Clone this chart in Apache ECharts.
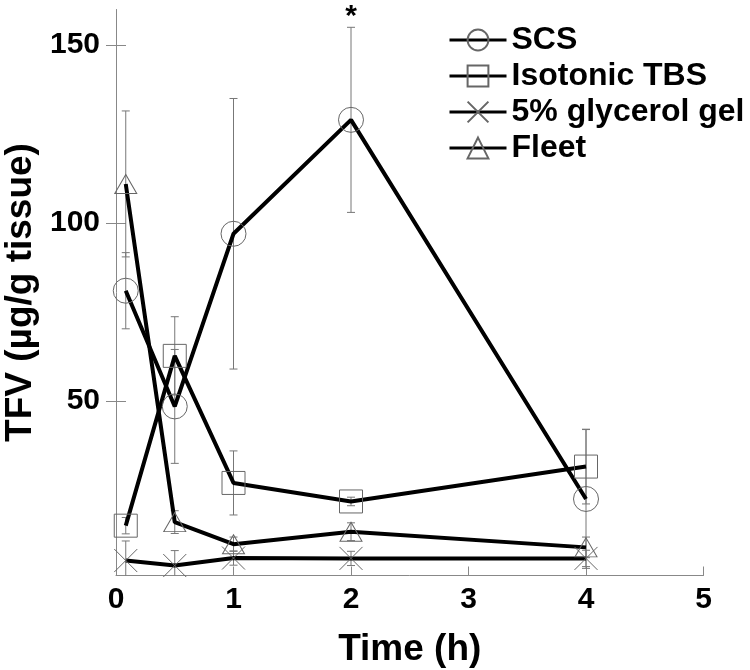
<!DOCTYPE html>
<html><head><meta charset="utf-8">
<script src="https://cdn.jsdelivr.net/npm/echarts@6/dist/echarts.min.js"></script>
<style>html,body{margin:0;padding:0;background:#fff}#c{width:750px;height:670px}</style>
</head><body><div id="c"></div><script>
const times = [0.083, 0.5, 1, 2, 4];
const seriesNames = ['SCS', 'Isotonic TBS', '5% glycerol gel', 'Fleet'];
const scsMean = [81, 48.5, 97, 129, 22.5];
const scsErr = [10.7, 16, 38, 26, 19.5];
const tbsMean = [15, 62.7, 27, 21.8, 31.6];
const tbsErr = [2.3, 11, 9, 1.2, 10.5];
const glyMean = [5.2, 3.8, 5.9, 5.8, 5.8];
const glyErr = [5.5, 4.2, 2, 2, 2.3];
const fleetMean = [111, 16, 9.8, 13.3, 8.9];
const fleetErr = [20.5, 3.2, 2, 2.5, 2.9];
const scsMarks = ['', '', '', '*', ''];
const noMarks = ['', '', '', '', ''];
const yTickValues = [50, 100, 150];

const FONT = '"Liberation Sans", Arial, sans-serif';
const Y_MIN = 1, Y_MAX = 160;
const MARK_COLOR = '#666';

const means = [scsMean, tbsMean, glyMean, fleetMean];
const errs = [scsErr, tbsErr, glyErr, fleetErr];
const marks = [scsMarks, noMarks, noMarks, noMarks];
const symbols = ['circle', 'rect', 'path://M0,0L10,10M10,0L0,10', 'triangle'];
const symbolSizes = [25, 23, 23, [22, 19]];

function errRenderer(markArr) {
  return function (params, api) {
    const x = api.value(0), lo = api.value(1), hi = api.value(2);
    const top = api.coord([x, Math.min(hi, Y_MAX)]);
    const bot = api.coord([x, Math.max(lo, Y_MIN)]);
    const st = { stroke: '#777', lineWidth: 1 };
    const children = [
      { type: 'line', shape: { x1: top[0], y1: top[1], x2: bot[0], y2: bot[1] }, style: st }
    ];
    if (hi <= Y_MAX) children.push({ type: 'line', shape: { x1: top[0] - 4, y1: top[1], x2: top[0] + 4, y2: top[1] }, style: st });
    if (lo >= Y_MIN) children.push({ type: 'line', shape: { x1: bot[0] - 4, y1: bot[1], x2: bot[0] + 4, y2: bot[1] }, style: st });
    const m = markArr[params.dataIndex];
    if (m) {
      children.push({ type: 'text', x: top[0], y: top[1] - 11, style: { text: m, font: 'bold 30px ' + FONT, fill: '#000', align: 'center', verticalAlign: 'middle' } });
    }
    return { type: 'group', children };
  };
}

const series = [];
seriesNames.forEach((name, i) => {
  series.push({
    type: 'custom',
    name: name + ' err',
    renderItem: errRenderer(marks[i]),
    data: times.map((t, k) => [t, means[i][k] - errs[i][k], means[i][k] + errs[i][k]]),
    encode: { x: 0, y: [1, 2] },
    z: 1,
    silent: true,
    clip: false
  });
});
seriesNames.forEach((name, i) => {
  series.push({
    type: 'line',
    name: name,
    data: times.map((t, k) => [t, means[i][k]]),
    symbol: symbols[i],
    symbolSize: symbolSizes[i],
    showAllSymbol: true,
    lineStyle: { color: '#000', width: 4 },
    itemStyle: { color: 'rgba(0,0,0,0)', borderColor: MARK_COLOR, borderWidth: 1 },
    emphasis: { disabled: true },
    z: 3,
    animation: false
  });
});

const chart = echarts.init(document.getElementById('c'), null, { renderer: 'canvas' });
chart.setOption({
  animation: false,
  backgroundColor: '#fff',
  grid: { left: 116, right: 46.5, top: 9.5, bottom: 94.5, containLabel: false, outerBoundsMode: 'none' },
  legend: {
    data: seriesNames.map((n) => ({ name: n })),
    orient: 'vertical',
    left: 448,
    top: 24,
    padding: 0,
    itemWidth: 57,
    itemHeight: 26,
    itemGap: 4,
    selectedMode: false,
    lineStyle: { width: 3, color: '#000' },
    textStyle: { fontFamily: FONT, fontWeight: 'bold', fontSize: 32, color: '#000' }
  },
  xAxis: {
    type: 'value', min: 0, max: 5, interval: 1,
    name: 'Time (h)', nameLocation: 'middle', nameGap: 56,
    nameTextStyle: { fontFamily: FONT, fontWeight: 'bold', fontSize: 37, color: '#000' },
    axisLine: { lineStyle: { color: '#888', width: 1 } },
    axisTick: { inside: true, length: 9, lineStyle: { color: '#888' } },
    axisLabel: { margin: 9, fontFamily: FONT, fontWeight: 'bold', fontSize: 30, color: '#000' },
    splitLine: { show: false }
  },
  yAxis: [{
    type: 'value', min: Y_MIN, max: Y_MAX,
    name: 'TFV (\u00b5g/g tissue)', nameLocation: 'middle', nameGap: 76,
    nameTextStyle: { fontFamily: FONT, fontWeight: 'bold', fontSize: 37, color: '#000' },
    axisLine: { show: true, lineStyle: { color: '#888', width: 1 } },
    axisTick: { show: true, inside: false, length: 10, customValues: yTickValues, lineStyle: { color: '#888' } },
    axisLabel: { margin: 16, customValues: yTickValues, fontFamily: FONT, fontWeight: 'bold', fontSize: 30, color: '#000' },
    splitLine: { show: false }
  }, {
    type: 'value', min: Y_MIN, max: Y_MAX, position: 'left', offset: 0,
    axisLine: { show: false },
    axisTick: { show: true, inside: true, length: 10, customValues: yTickValues, lineStyle: { color: '#888' } },
    axisLabel: { show: false },
    splitLine: { show: false }
  }],
  series: series
});
</script></body></html>
